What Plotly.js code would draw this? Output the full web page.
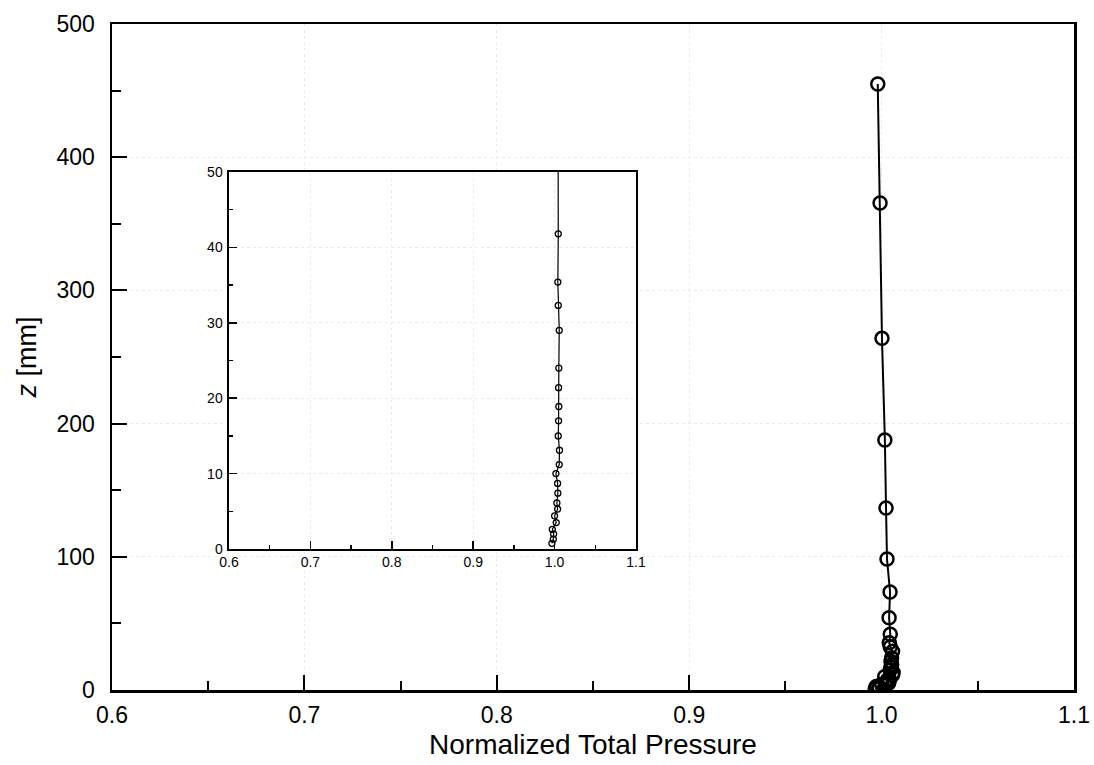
<!DOCTYPE html>
<html>
<head>
<meta charset="utf-8">
<script src="https://cdn.plot.ly/plotly-3.0.1.min.js"></script>
<style>html,body{margin:0;padding:0;background:#fff;}#chart{width:1094px;height:765px;}</style>
</head>
<body>
<div id="chart"></div>
<script>
// Height above floor z [mm]
const zValues = [0.75, 1.3, 2.0, 2.6, 3.5, 4.4, 5.3, 6.1, 7.4, 8.7, 10.0, 11.2, 13.1, 15.0, 17.0, 18.9, 21.4, 24.0, 29.0, 32.3, 35.4, 41.8, 54.3, 73.6, 98.3, 136.6, 187.7, 264.0, 365.6, 455.0];
// Normalized total pressure
const pValues = [0.9967, 0.9984, 0.9988, 0.9972, 1.0020, 1.0000, 1.0037, 1.0028, 1.0040, 1.0037, 1.0016, 1.0057, 1.0060, 1.0045, 1.0049, 1.0052, 1.0049, 1.0052, 1.0057, 1.0045, 1.0040, 1.0045, 1.0039, 1.0044, 1.0028, 1.0023, 1.0017, 1.0002, 0.9992, 0.9980];

const xTitle = 'Normalized Total Pressure';
const yTitle = '<i>z</i> [mm]';

const FONT = 'Liberation Sans, Arial, Helvetica, sans-serif';

const mainTrace = {
  x: pValues, y: zValues, xaxis: 'x', yaxis: 'y',
  mode: 'lines+markers', type: 'scatter',
  line: {color: '#000', width: 2},
  marker: {symbol: 'circle-open', size: 13, color: '#000', line: {color: '#000', width: 2.5}},
  showlegend: false, hoverinfo: 'x+y'
};
const insetTrace = {
  x: pValues, y: zValues, xaxis: 'x2', yaxis: 'y2',
  mode: 'lines+markers', type: 'scatter',
  line: {color: '#000', width: 1.2},
  marker: {symbol: 'circle-open', size: 6, color: '#000', line: {color: '#000', width: 1.3}},
  showlegend: false, hoverinfo: 'x+y', cliponaxis: true
};

const gridStyle = {showgrid: true, gridcolor: '#ececec', griddash: 'dot', gridwidth: 1};

const layout = {
  width: 1094, height: 765,
  margin: {l: 112, r: 20, t: 24, b: 75},
  paper_bgcolor: '#fff', plot_bgcolor: '#fff',
  font: {family: FONT, color: '#000'},
  xaxis: Object.assign({
    domain: [0, 1], range: [0.6, 1.1], dtick: 0.1, tick0: 0.6, tickformat: '.1f',
    ticks: 'inside', ticklen: 15, tickwidth: 2, tickcolor: '#000',
    minor: {dtick: 0.05, ticks: 'inside', ticklen: 9, tickwidth: 2, tickcolor: '#000', showgrid: false},
    showline: true, linewidth: 2.5, linecolor: '#000', mirror: true, zeroline: false,
    tickfont: {size: 23, family: FONT, color: '#000'}, ticklabelstandoff: 3,
    title: {text: xTitle, font: {size: 28, family: FONT, color: '#000'}, standoff: 8},
    anchor: 'y', fixedrange: true
  }, gridStyle),
  yaxis: Object.assign({
    domain: [0, 1], range: [0, 500], dtick: 100, tick0: 0,
    ticks: 'inside', ticklen: 15, tickwidth: 2, tickcolor: '#000',
    minor: {dtick: 50, ticks: 'inside', ticklen: 9, tickwidth: 2, tickcolor: '#000', showgrid: false},
    showline: true, linewidth: 2.5, linecolor: '#000', mirror: true, zeroline: false,
    tickfont: {size: 23, family: FONT, color: '#000'}, ticklabelstandoff: 10,
    title: {text: yTitle, font: {size: 27, family: FONT, color: '#000'}, standoff: 12},
    anchor: 'x', fixedrange: true
  }, gridStyle),
  xaxis2: Object.assign({
    domain: [0.1216, 0.5447], range: [0.6, 1.1], dtick: 0.1, tick0: 0.6, tickformat: '.1f',
    ticks: 'inside', ticklen: 8, tickwidth: 1.5, tickcolor: '#000',
    minor: {dtick: 0.05, ticks: 'inside', ticklen: 4, tickwidth: 1.5, tickcolor: '#000', showgrid: false},
    showline: true, linewidth: 1.5, linecolor: '#000', mirror: true, zeroline: false,
    tickfont: {size: 14, family: FONT, color: '#000'}, ticklabelstandoff: 0,
    anchor: 'y2', fixedrange: true
  }, gridStyle),
  yaxis2: Object.assign({
    domain: [0.2117, 0.7778], range: [0, 50], dtick: 10, tick0: 0,
    ticks: 'inside', ticklen: 8, tickwidth: 1.5, tickcolor: '#000',
    minor: {dtick: 5, ticks: 'inside', ticklen: 4, tickwidth: 1.5, tickcolor: '#000', showgrid: false},
    showline: true, linewidth: 1.5, linecolor: '#000', mirror: true, zeroline: false,
    tickfont: {size: 14, family: FONT, color: '#000'}, ticklabelstandoff: 2,
    anchor: 'x2', fixedrange: true
  }, gridStyle)
};

Plotly.newPlot('chart', [mainTrace, insetTrace], layout, {displayModeBar: false, staticPlot: true});
</script>
</body>
</html>
